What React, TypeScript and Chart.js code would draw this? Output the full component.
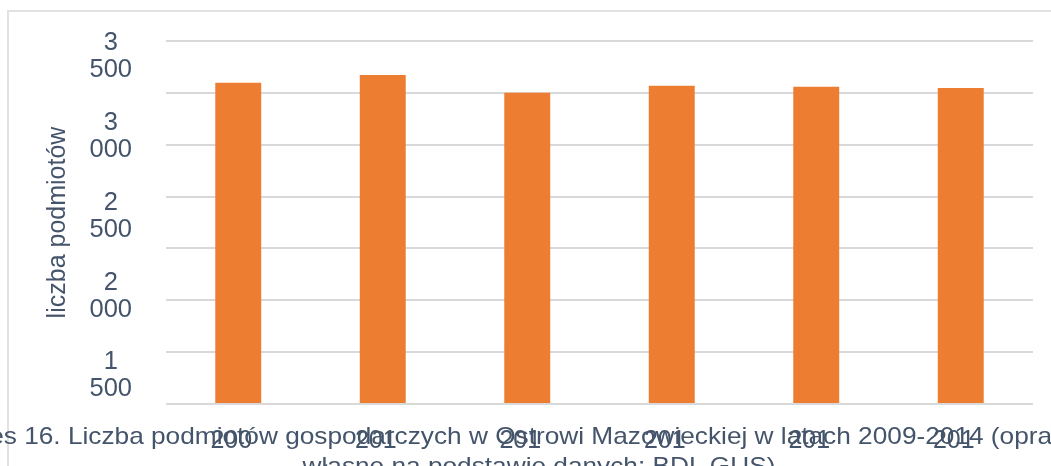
import { useEffect, useRef } from "react";
import { Chart, registerables } from "chart.js";

Chart.register(...registerables);

const categories = ["2009", "2010", "2011", "2012", "2013", "2014"];
const podmioty = [3098, 3172, 3001, 3069, 3059, 3047];
const yTickValues = [1500, 2000, 2500, 3000, 3500];
const yTickLabels = ["1 500", "2 000", "2 500", "3 000", "3 500"];
const yAxisTitle = "liczba podmiotów";
const captionLine1 =
  "Wykres 16. Liczba podmiotów gospodarczych w Ostrowi Mazowieckiej w latach 2009-2014 (opracowanie";
const captionLine2 = "własne na podstawie danych: BDL GUS)";

const TEXT = "#44546A";
const FONT = "'Liberation Sans', Arial, sans-serif";

export default function App() {
  const ref = useRef<HTMLCanvasElement>(null);

  useEffect(() => {
    const chart = new Chart(ref.current as HTMLCanvasElement, {
      type: "bar",
      data: {
        labels: categories,
        datasets: [
          {
            data: podmioty,
            backgroundColor: "#ED7D31",
            barPercentage: 0.318,
            categoryPercentage: 1,
            yAxisID: "y",
          },
        ],
      },
      options: {
        animation: false,
        responsive: false,
        maintainAspectRatio: false,
        layout: { padding: { top: 41, right: 18, left: 0, bottom: 0 } },
        plugins: { legend: { display: false }, tooltip: { enabled: false } },
        scales: {
          x: {
            grid: { display: false, drawTicks: false },
            border: { display: false },
            ticks: {
              color: TEXT,
              font: { family: FONT, size: 25 },
              padding: 22,
              maxRotation: 0,
              minRotation: 0,
              autoSkip: false,
              labelOffset: -7,
              callback: (_v: any, i: number) => categories[i].slice(0, 3),
            },
            afterFit: (s: any) => {
              s.height = 62;
              s.paddingLeft = 0;
              s.paddingRight = 0;
            },
          },
          y: {
            position: "left",
            weight: 0,
            min: 0,
            max: 3500,
            ticks: { display: false, stepSize: 500 },
            grid: { color: "#d9d9d9", lineWidth: 2, drawTicks: false },
            border: { display: false },
            afterFit: (s: any) => {
              s.width = 0;
              s.paddingTop = 0;
              s.paddingBottom = 0;
            },
          },
          y2: {
            position: "left",
            weight: 1,
            min: 1324,
            max: 3600,
            grid: { display: false, drawTicks: false },
            border: { display: false },
            afterBuildTicks: (s: any) => {
              s.ticks = yTickValues.map((v) => ({ value: v }));
            },
            ticks: {
              color: TEXT,
              font: { family: FONT, size: 25.5, lineHeight: 27 / 25.5 },
              padding: 34,
              crossAlign: "center",
              autoSkip: false,
              callback: (v: any) => {
                const i = yTickValues.indexOf(Number(v));
                return i >= 0 ? yTickLabels[i].split(" ") : "";
              },
            },
            title: {
              display: true,
              text: yAxisTitle,
              color: TEXT,
              font: { family: FONT, size: 25 },
              padding: { top: 43, bottom: 0 },
            },
            afterFit: (s: any) => {
              s.width = 166;
              s.paddingTop = 0;
              s.paddingBottom = 0;
            },
          },
        },
      } as any,
    });
    return () => chart.destroy();
  }, []);

  return (
    <div
      style={{
        position: "fixed",
        top: 0,
        left: 0,
        width: 1051,
        height: 466,
        overflow: "hidden",
        background: "#fff",
        fontFamily: FONT,
      }}
    >
      <div
        style={{
          position: "absolute",
          left: 7,
          top: 10,
          width: 1200,
          height: 600,
          border: "2px solid #e2e2e2",
          boxSizing: "border-box",
        }}
      />
      <canvas
        ref={ref}
        width={1051}
        height={466}
        style={{ position: "absolute", left: 0, top: 0, display: "block" }}
      />
      <div
        style={{
          position: "absolute",
          left: 539 - 800,
          top: 421,
          width: 1600,
          textAlign: "center",
          fontSize: 24,
          lineHeight: "30px",
          color: TEXT,
          whiteSpace: "nowrap",
          transform: "scaleX(1.093)",
          transformOrigin: "center",
        }}
      >
        <div>{captionLine1}</div>
        <div>{captionLine2}</div>
      </div>
    </div>
  );
}
